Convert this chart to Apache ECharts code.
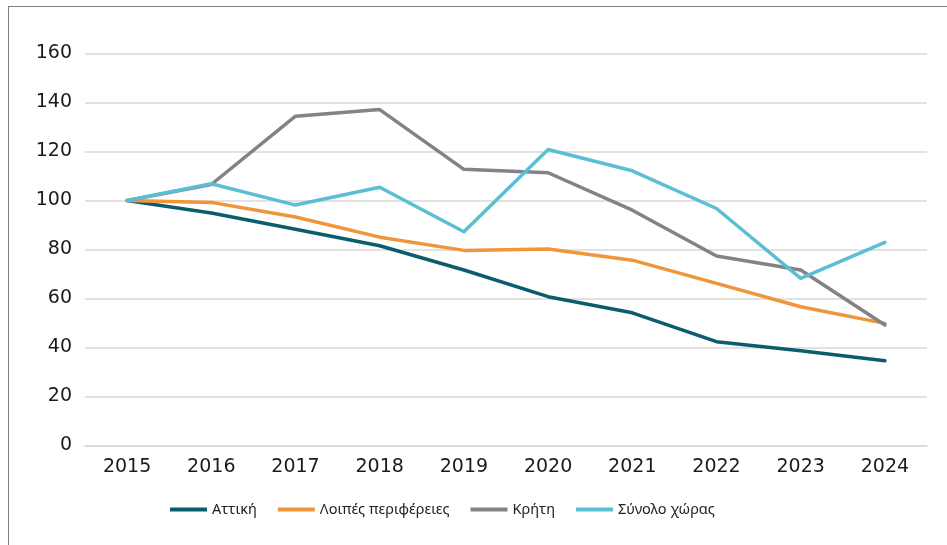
<!DOCTYPE html>
<html>
<head>
<meta charset="utf-8">
<script src="https://cdn.jsdelivr.net/npm/echarts@6/dist/echarts.min.js"></script>
<style>
  html, body { margin: 0; padding: 0; background: #fff; }
  #frame {
    position: absolute; left: 8px; top: 6px; width: 960px; height: 560px;
    border-left: 1.5px solid #808080; border-top: 1.5px solid #808080;
    box-sizing: border-box;
  }
  #chart { position: absolute; left: 0; top: 0; width: 947px; height: 545px; }
</style>
</head>
<body>
<div id="frame"></div>
<div id="chart"></div>
<script>
const years = ['2015', '2016', '2017', '2018', '2019', '2020', '2021', '2022', '2023', '2024'];
const attiki = [100, 94.9, 88.2, 81.5, 71.6, 60.7, 54.1, 42.3, 38.6, 34.5];
const loipes = [100, 99.2, 93.2, 85.0, 79.6, 80.2, 75.6, 66.1, 56.6, 49.8];
const kriti = [100, 106.5, 134.4, 137.1, 112.7, 111.3, 96.0, 77.3, 71.6, 49.1];
const synolo = [100, 106.8, 98.1, 105.4, 87.2, 120.8, 112.1, 96.7, 68.2, 82.9];

const seriesNames = ['Αττική', 'Λοιπές περιφέρειες', 'Κρήτη', 'Σύνολο χώρας'];
const seriesColors = ['#0b5d6e', '#f0953a', '#838387', '#5bbfd3'];
const seriesData = [attiki, loipes, kriti, synolo];

const chart = echarts.init(document.getElementById('chart'));

const option = {
  animation: false,
  color: seriesColors,
  grid: {
    left: 85,
    right: 20,
    top: 53.5,
    bottom: 99.7
  },
  legend: {
    left: 165,
    top: 497,
    icon: 'rect',
    itemWidth: 37,
    itemHeight: 4,
    itemGap: 21,
    textStyle: {
      fontFamily: 'Noto Sans',
      fontSize: 14.5,
      color: '#222'
    },
    data: seriesNames
  },
  xAxis: {
    type: 'category',
    data: years,
    boundaryGap: true,
    axisLine: { show: true, lineStyle: { color: '#d9d9d9', width: 1.5 } },
    axisTick: { show: false },
    axisLabel: {
      color: '#1a1a1a',
      fontFamily: 'DejaVu Sans',
      fontSize: 19,
      margin: 12
    }
  },
  yAxis: {
    type: 'value',
    min: 0,
    max: 160,
    interval: 20,
    axisLine: { show: false },
    axisTick: { show: false },
    splitLine: { lineStyle: { color: '#d9d9d9', width: 1.5 } },
    axisLabel: {
      color: '#1a1a1a',
      fontFamily: 'DejaVu Sans',
      fontSize: 19,
      margin: 13
    }
  },
  series: seriesNames.map((name, i) => ({
    name: name,
    type: 'line',
    data: seriesData[i],
    symbol: 'none',
    lineStyle: { width: 3.5, color: seriesColors[i], cap: 'round', join: 'round' },
    itemStyle: { color: seriesColors[i] }
  }))
};

chart.setOption(option);
</script>
</body>
</html>
